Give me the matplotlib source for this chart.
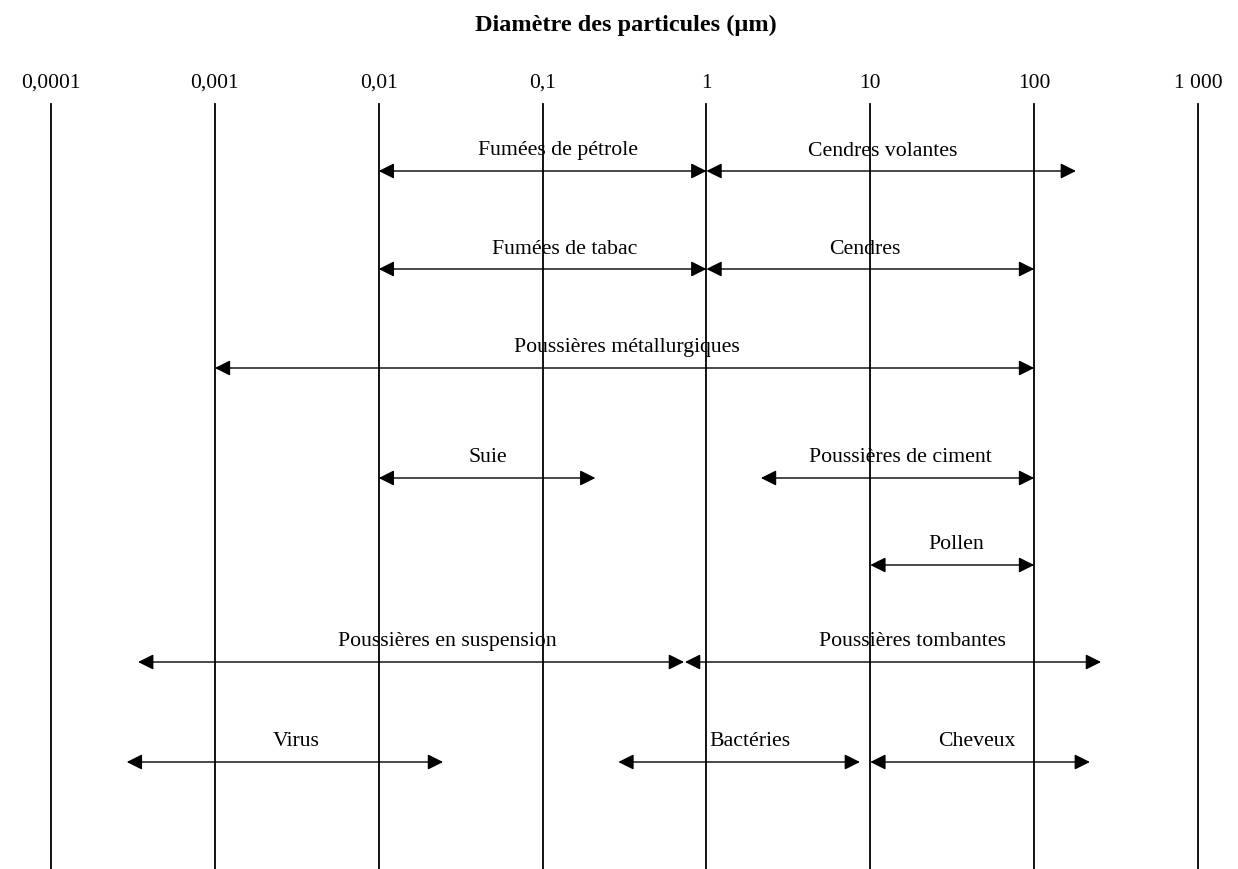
import numpy as np
import matplotlib.pyplot as plt

plt.rcParams['font.family'] = ['Liberation Serif', 'DejaVu Serif']

# decade grid
decades = [1e-4, 1e-3, 1e-2, 1e-1, 1, 10, 100, 1000]
decade_labels = ['0,0001', '0,001', '0,01', '0,1', '1', '10', '100', '1 000']

# particle ranges (µm)
names = ['Fumées de pétrole', 'Cendres volantes',
         'Fumées de tabac', 'Cendres',
         'Poussières métallurgiques',
         'Suie', 'Poussières de ciment',
         'Pollen',
         'Poussières en suspension', 'Poussières tombantes',
         'Virus', 'Bactéries', 'Cheveux']
low = [0.01, 1, 0.01, 1, 0.001, 0.01, 2.15, 10, 0.00034, 0.74, 0.00029, 0.29, 10]
high = [1, 180, 1, 100, 100, 0.21, 100, 100, 0.73, 256, 0.0247, 8.65, 219]

# layout: row (pixel y of arrow) and label centre (µm)
row_y = [172, 172, 270, 270, 369, 479, 479, 566, 663, 663, 763, 763, 763]
label_x = [0.124, 11.9, 0.137, 9.3, 0.327, 0.0465, 15.2, 33.3, 0.0261, 18.2,
           0.00313, 1.85, 44.8]

W, H = 1238, 870
fig = plt.figure(figsize=(W / 100, H / 100), dpi=100)
ax = fig.add_axes([0, 0, 1, 1])
ax.set_xscale('log')
px_per_dec = (1198 - 51) / 7.0
ax.set_xlim(10 ** (-4 - 51 / px_per_dec), 10 ** (3 + (W - 1198) / px_per_dec))
ax.set_ylim(H, 0)
ax.axis('off')

for d, lab in zip(decades, decade_labels):
    ax.plot([d, d], [105, H], color='k', lw=1.3)
    ax.text(d, 83, lab, ha='center', va='center', fontsize=15.5)

fig.text(626 / W, 1 - 25 / H, 'Diamètre des particules (µm)',
         ha='center', va='center', fontsize=17.5, fontweight='bold')

for name, a, b, y, lx in zip(names, low, high, row_y, label_x):
    ax.annotate('', xy=(b, y), xytext=(a, y),
                arrowprops=dict(arrowstyle='<|-|>,head_length=0.94,head_width=0.47',
                                mutation_scale=10, color='k', lw=1.0,
                                shrinkA=0, shrinkB=0))
    ax.text(lx, y - 21, name, ha='center', va='center', fontsize=15.7)

fig.savefig('out.png', dpi=100)
